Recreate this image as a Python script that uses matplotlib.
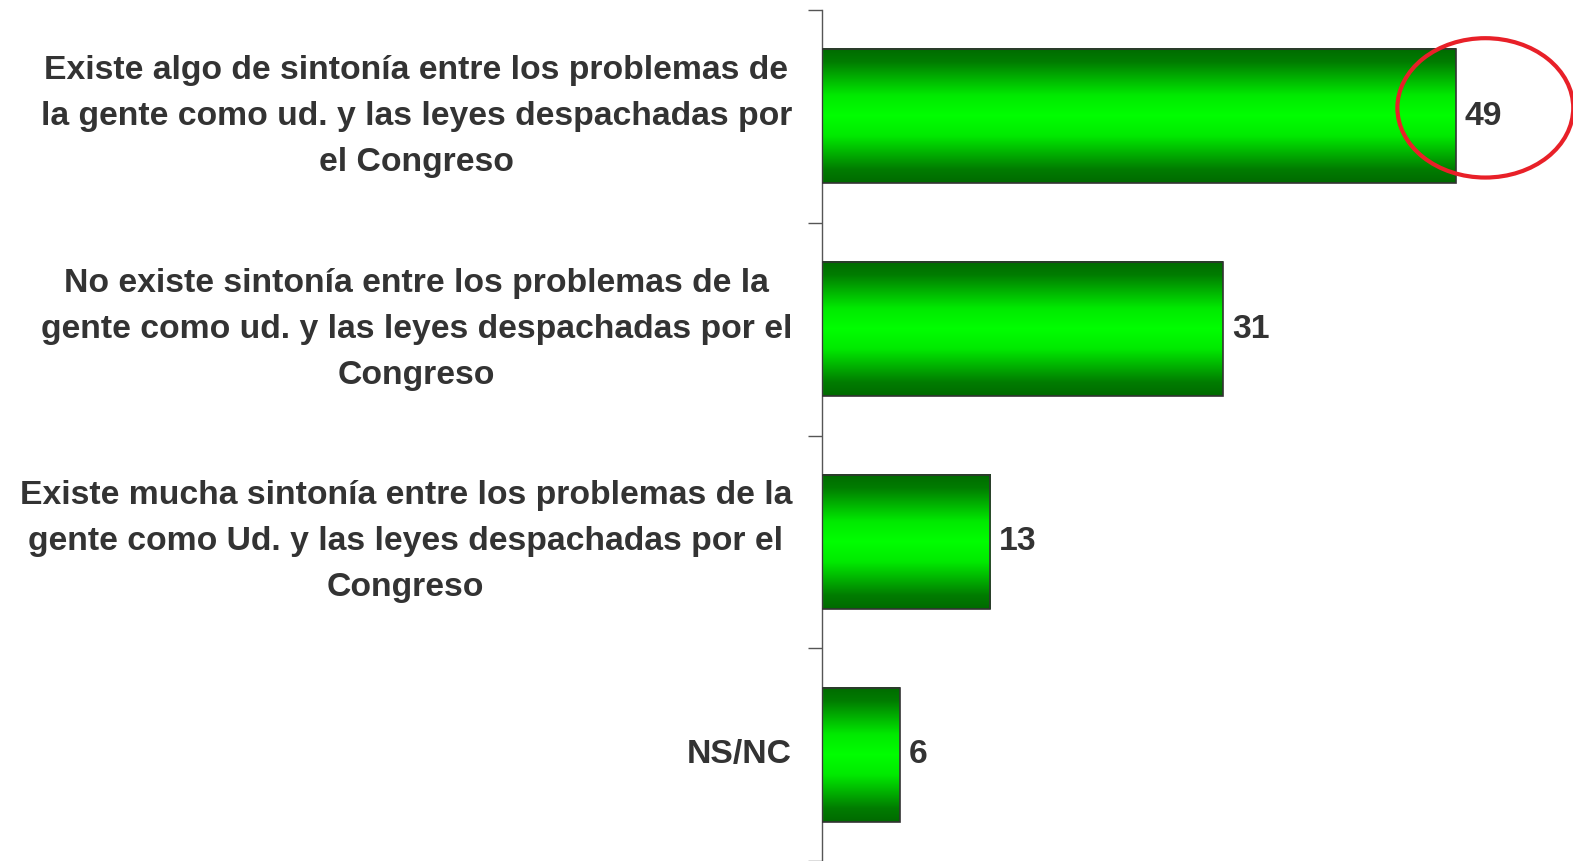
import numpy as np
import matplotlib
matplotlib.use("Agg")
import matplotlib.pyplot as plt
from matplotlib.colors import LinearSegmentedColormap
from matplotlib.patches import Rectangle, Ellipse

# data
labels = [
    "Existe algo de sintonía entre los problemas de\nla gente como ud. y las leyes despachadas por\nel Congreso",
    "No existe sintonía entre los problemas de la\ngente como ud. y las leyes despachadas por el\nCongreso",
    "Existe mucha sintonía entre los problemas de la\ngente como Ud. y las leyes despachadas por el\nCongreso",
    "NS/NC",
]
values = [49, 31, 13, 6]

text_col = "#333333"
plt.rcParams["font.family"] = ["Liberation Sans", "DejaVu Sans"]

fig = plt.figure(figsize=(15.73, 8.61), dpi=100)
ax = fig.add_axes([822 / 1573, 0, 1 - 822 / 1573, 851 / 861])

px_per_unit = 12.93
bar_h = 0.63
green = LinearSegmentedColormap.from_list(
    "barg",
    [(0, "#006a00"), (0.1, "#007c00"), (0.35, "#00ea00"), (0.5, "#00ff00"),
     (0.65, "#00ea00"), (0.9, "#007c00"), (1, "#006a00")])
grad = np.linspace(0, 1, 256).reshape(-1, 1)

for i, v in enumerate(values):
    y0 = i - bar_h / 2
    ax.imshow(grad, cmap=green, aspect="auto", extent=[0, v, y0 + bar_h, y0],
              origin="upper", zorder=2, interpolation="bilinear")
    ax.add_patch(Rectangle((0, y0), v, bar_h, facecolor="none",
                           edgecolor="#333333", linewidth=1.2, zorder=3))
    ax.text(v + 0.7, i, str(v), ha="left", va="center", fontsize=24.3,
            fontweight="bold", color=text_col)

ax.set_xlim(0, (1573 - 822) / px_per_unit)
ax.set_ylim(len(values) - 0.5, -0.5)

# category labels, right aligned block, centered lines
for i, lab in enumerate(labels):
    ax.text(-30 / px_per_unit, i, lab, ha="right", va="center", multialignment="center",
            fontsize=24.3, fontweight="bold", color=text_col, linespacing=1.62,
            clip_on=False)

ax.set_yticks([])
ax.set_yticks(np.arange(-0.5, len(values) + 0.5, 1), minor=True)
ax.tick_params(axis="y", which="minor", length=10, width=1, color="#555555",
               direction="out")
ax.set_xticks([])
for s in ["top", "right", "bottom"]:
    ax.spines[s].set_visible(False)
ax.spines["left"].set_color("#555555")
ax.spines["left"].set_linewidth(1)

# red highlight around the top value
ax.add_patch(Ellipse((51.3, -0.04), 13.6, 0.655, fill=False, edgecolor="#e82028",
                     linewidth=3, clip_on=False, zorder=4))

fig.savefig("out.png", dpi=100)
